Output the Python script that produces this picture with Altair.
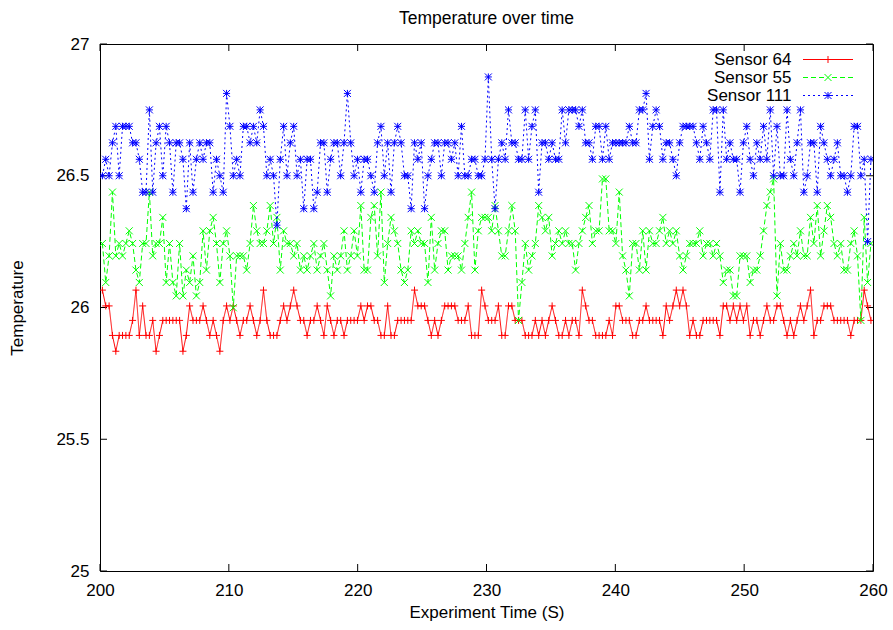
import altair as alt
import pandas as pd

FONT = "Liberation Sans"

sensor_names = ["Sensor 64", "Sensor 55", "Sensor 111"]
sensor_colors = ["#ff0000", "#00ff00", "#0000ff"]
sensor_dashes = [[1, 0], [5, 3], [2, 3]]
# plus, cross and asterisk point symbols
sensor_symbols = [
    "M-1,0L1,0M0,-1L0,1",
    "M-1,-1L1,1M-1,1L1,-1",
    "M-1,0L1,0M0,-1L0,1M-1,-1L1,1M-1,1L1,-1",
]
# key samples: line (solid / dashed / dotted) with the point symbol in the middle
key_symbols = [
    "M-5,0L5,0M-0.7,0L0.7,0M0,-0.7L0,0.7",
    "M-5,0L-4,0M-3.4,0L-2.4,0M-1.8,0L-0.8,0M0.8,0L1.8,0M2.4,0L3.4,0M4,0L5,0"
    "M-0.7,-0.7L0.7,0.7M-0.7,0.7L0.7,-0.7",
    "M-5,0L-4.6,0M-4,0L-3.6,0M-3,0L-2.6,0M-2,0L-1.6,0M-1,0L-0.6,0"
    "M0.6,0L1,0M1.6,0L2,0M2.6,0L3,0M3.6,0L4,0M4.6,0L5,0"
    "M-0.7,0L0.7,0M0,-0.7L0,0.7M-0.7,-0.7L0.7,0.7M-0.7,0.7L0.7,-0.7",
]

# logger clock: first sample time and sampling interval (seconds)
first_sample_s = 200.186
sample_interval_s = 0.2605

sensor_64 = [
    26.066, 26.006, 26.006, 25.894, 25.834, 25.894, 25.894, 25.894, 25.894, 25.951,
    26.066, 25.894, 26.006, 25.894, 25.894, 25.951, 25.834, 25.894, 25.951, 25.951,
    25.951, 25.951, 25.951, 25.951, 25.834, 25.894, 26.006, 25.951, 25.951, 25.951,
    26.006, 25.951, 25.894,
    25.951, 25.894, 25.834, 25.951, 26.006, 25.951, 26.006, 25.951, 25.894, 25.951,
    25.951, 26.006, 25.951, 25.894, 25.951, 26.066, 25.951, 25.894, 25.894, 25.894,
    25.951, 26.006, 25.951, 26.006, 26.066, 26.006, 25.951, 25.951, 25.894, 25.951,
    25.951, 26.006, 25.951,
    25.894, 26.006, 25.951, 25.894, 25.951, 25.951, 25.894, 25.951, 25.951, 25.951,
    25.951, 26.006, 25.951, 26.006, 26.006, 25.951, 25.951, 25.894, 25.894, 26.006,
    25.894, 25.894, 25.951, 25.951, 25.951, 25.951, 25.951, 26.066, 26.006, 26.006,
    26.006, 25.951, 25.894,
    25.951, 25.894, 25.951, 26.006, 26.006, 26.006, 26.006, 25.951, 25.951, 25.951,
    26.006, 25.894, 25.894, 25.894, 26.066, 26.006, 25.951, 25.951, 25.951, 26.006,
    25.894, 25.894, 26.006, 26.006, 25.951, 25.951, 25.951, 25.894, 25.894, 25.894,
    25.951, 25.894,
    25.951, 25.894, 25.951, 26.006, 25.951, 25.894, 25.894, 25.951, 25.894, 25.951,
    25.951, 25.894, 26.066, 26.006, 25.951, 25.951, 25.894, 25.894, 25.894, 25.894,
    25.951, 25.894, 26.006, 26.006, 25.951, 25.951, 25.951, 25.894, 25.894, 25.951,
    25.951, 26.006, 25.951, 25.951,
    25.951, 25.951, 25.894, 26.006, 25.951, 26.006, 26.066, 26.006, 26.066, 26.006,
    25.894, 25.951, 25.894, 25.894, 25.951, 25.951, 25.951, 25.951, 25.951, 25.894,
    26.006, 26.006, 25.951, 26.006, 25.951, 26.006, 25.951, 26.006, 25.894, 25.951,
    25.951, 25.894, 25.951,
    26.006, 25.951, 25.951, 26.006, 26.006, 25.951, 25.894, 25.951, 25.894, 25.951,
    26.006, 25.951, 26.006, 26.066, 25.894, 25.951, 25.951, 26.006, 26.006, 26.006,
    25.951, 25.951, 25.951, 25.951, 25.951, 25.894, 25.951, 25.951, 25.951, 26.066,
    26.006, 25.951,
]

sensor_55 = [
    26.243, 26.095, 26.196, 26.438, 26.196, 26.243, 26.196, 26.243, 26.291, 26.243,
    26.142, 26.095, 26.243, 26.243, 26.438, 26.196, 26.243, 26.243, 26.342, 26.095,
    26.243, 26.095, 26.044, 26.243, 26.044, 26.142, 26.095, 26.196, 26.044, 26.095,
    26.291, 26.142, 26.291,
    26.342, 26.243, 26.095, 26.243, 26.291, 26.196, 25.999, 26.196, 26.196, 26.196,
    26.142, 26.243, 26.387, 26.291, 26.243, 26.243, 26.291, 26.387, 26.243, 26.342,
    26.142, 26.291, 26.243, 26.243, 26.196, 26.243, 26.142, 26.196, 26.142, 26.196,
    26.243, 26.142, 26.196,
    26.243, 26.142, 26.044, 26.196, 26.142, 26.196, 26.291, 26.142, 26.196, 26.291,
    26.196, 26.387, 26.142, 26.142, 26.342, 26.387, 26.196, 26.438, 26.095, 26.243,
    26.342, 26.291, 26.243, 26.142, 26.095, 26.142, 26.291, 26.243, 26.291, 26.243,
    26.243, 26.095, 26.342,
    26.142, 26.243, 26.291, 26.291, 26.142, 26.196, 26.196, 26.196, 26.142, 26.243,
    26.342, 26.438, 26.142, 26.291, 26.342, 26.342, 26.342, 26.291, 26.387, 26.291,
    26.196, 26.196, 26.291, 26.387, 26.291, 25.951, 26.095, 26.243, 26.142, 26.196,
    26.243, 26.387,
    26.342, 26.291, 26.342, 26.196, 26.243, 26.291, 26.243, 26.291, 26.243, 26.243,
    26.142, 26.243, 26.291, 26.342, 26.387, 26.243, 26.291, 26.291, 26.488, 26.488,
    26.291, 26.291, 26.243, 26.438, 26.196, 26.142, 26.044, 26.243, 26.243, 26.142,
    26.291, 26.142,
    26.291, 26.243, 26.243, 26.291, 26.342, 26.243, 26.291, 26.243, 26.291, 26.196,
    26.142, 26.196, 26.243, 26.243, 26.243, 26.291, 26.196, 26.243, 26.243, 26.196,
    26.243, 26.196, 26.095, 26.142, 26.142, 26.044, 26.044, 26.196, 26.196, 26.196,
    26.095, 26.142, 26.142,
    26.196, 26.291, 26.387, 26.438, 26.488, 26.044, 26.243, 26.142, 26.142, 26.196,
    26.243, 26.196, 26.291, 26.196, 26.196, 26.342, 26.243, 26.387, 26.196, 26.291,
    26.387, 26.342, 26.243, 26.196, 26.243, 26.142, 26.142, 26.243, 26.291, 26.196,
    25.951, 26.342, 26.095, 26.243,
]

sensor_111 = [
    26.5, 26.5625, 26.5, 26.625, 26.6875, 26.5, 26.6875, 26.6875, 26.6875, 26.625,
    26.625, 26.5625, 26.4375, 26.4375, 26.75, 26.4375, 26.625, 26.6875, 26.5, 26.6875,
    26.625, 26.4375, 26.625, 26.625, 26.5625, 26.375, 26.625, 26.4375, 26.5625, 26.625,
    26.5625, 26.625, 26.625,
    26.4375, 26.5625, 26.5, 26.4375, 26.8125, 26.6875, 26.5, 26.5625, 26.5, 26.6875,
    26.6875, 26.625, 26.6875, 26.625, 26.75, 26.6875, 26.5, 26.5625, 26.5, 26.3125,
    26.5625, 26.6875, 26.5, 26.625, 26.6875, 26.5, 26.5625, 26.375, 26.5625, 26.5625,
    26.375, 26.4375,
    26.625, 26.625, 26.4375, 26.5625, 26.625, 26.625, 26.5, 26.625, 26.8125, 26.625,
    26.5, 26.5625, 26.4375, 26.5625, 26.5625, 26.5, 26.4375, 26.625, 26.6875, 26.5,
    26.625, 26.4375, 26.625, 26.6875, 26.625, 26.5, 26.5, 26.375, 26.625, 26.5625,
    26.625, 26.375,
    26.5, 26.5625, 26.625, 26.625, 26.5, 26.625, 26.625, 26.5625, 26.625, 26.5,
    26.6875, 26.5, 26.5, 26.5625, 26.5625, 26.5, 26.5, 26.5625, 26.875, 26.5625,
    26.375, 26.5625, 26.625, 26.5625, 26.75, 26.625, 26.625, 26.5625, 26.5625, 26.75,
    26.5625, 26.6875, 26.75, 26.4375,
    26.625, 26.625, 26.5625, 26.625, 26.5625, 26.5625, 26.75, 26.625, 26.75, 26.75,
    26.75, 26.6875, 26.75, 26.625, 26.625, 26.5625, 26.6875, 26.6875, 26.5625, 26.6875,
    26.5625, 26.625, 26.625, 26.625, 26.625, 26.625, 26.6875, 26.625, 26.625, 26.75,
    26.75, 26.8125, 26.5625,
    26.6875, 26.75, 26.6875, 26.5625, 26.625, 26.625, 26.5625, 26.5, 26.625, 26.6875,
    26.6875, 26.6875, 26.6875, 26.625, 26.5625, 26.6875, 26.625, 26.5625, 26.75, 26.75,
    26.4375, 26.75, 26.5625, 26.625, 26.5625, 26.5625, 26.4375, 26.625, 26.6875, 26.5625,
    26.5, 26.625, 26.5625,
    26.6875, 26.5625, 26.75, 26.5, 26.6875, 26.5, 26.5, 26.75, 26.5625, 26.5,
    26.625, 26.75, 26.4375, 26.5, 26.625, 26.625, 26.4375, 26.6875, 26.625, 26.5625,
    26.5, 26.5625, 26.625, 26.5, 26.5, 26.4375, 26.5, 26.6875, 26.6875, 26.5,
    26.5625, 26.25, 26.5625,
]

x_ticks = [200, 210, 220, 230, 240, 250, 260]
y_ticks = [25, 25.5, 26, 26.5, 27]

W, H = 773, 527
TICK_LEN = 7

rows = []
for name, values in zip(sensor_names, [sensor_64, sensor_55, sensor_111]):
    for i, v in enumerate(values):
        rows.append({"time": first_sample_s + i * sample_interval_s,
                     "temp": v, "series": name})
df = pd.DataFrame(rows)

x_scale = alt.Scale(domain=[200, 260], nice=False, zero=False)
y_scale = alt.Scale(domain=[25, 27], nice=False, zero=False)

x_axis = alt.Axis(
    values=x_ticks, format="d", grid=False, domain=False, ticks=False, tickSize=0,
    labelFont=FONT, labelFontSize=17, labelColor="black", labelPadding=11,
    labelFlush=False, labelOverlap=False,
    title="Experiment Time (S)", titleFont=FONT, titleFontSize=17,
    titleFontWeight="normal", titleColor="black", titleY=41, titleBaseline="middle",
)
y_axis = alt.Axis(
    values=y_ticks, format=".1~f", grid=False, domain=False, ticks=False, tickSize=0,
    labelFont=FONT, labelFontSize=17, labelColor="black", labelPadding=11,
    labelFlush=False, labelOverlap=False,
    title="Temperature", titleFont=FONT, titleFontSize=17, titleFontWeight="normal",
    titleColor="black", titleX=-83, titleY=H / 2, titleAngle=270,
    titleBaseline="middle", titleAlign="center",
)

x_enc = alt.X("time:Q", scale=x_scale, axis=x_axis)
y_enc = alt.Y("temp:Q", scale=y_scale, axis=y_axis)

base = alt.Chart(df)
layers = []
for name, col, dash, sym in zip(sensor_names, sensor_colors, sensor_dashes, sensor_symbols):
    sub = base.transform_filter(alt.datum.series == name)
    line = sub.mark_line(strokeWidth=1, clip=True, color=col, strokeDash=dash).encode(
        x=x_enc, y=y_enc)
    pts = sub.mark_point(filled=False, strokeWidth=1, opacity=1, size=49, clip=True,
                         color=col, shape=sym).encode(x=x_enc, y=y_enc)
    layers += [line, pts]

# key in the top-right corner: right-aligned labels left of each sample
key_legend = alt.Legend(
    title=None, orient="none", legendX=719.5, legendY=7, padding=0,
    symbolSize=100, symbolStrokeWidth=1, symbolFillColor="transparent",
    labelFont=FONT, labelFontSize=17, labelColor="black", labelAlign="right",
    labelOffset={"expr": "-45"}, labelLimit=0, rowPadding=0,
)
key = base.transform_filter("false").mark_point(filled=False, strokeWidth=1, opacity=1).encode(
    color=alt.Color("series:N", scale=alt.Scale(domain=sensor_names, range=sensor_colors),
                    legend=key_legend),
    shape=alt.Shape("series:N", scale=alt.Scale(domain=sensor_names, range=key_symbols),
                    legend=key_legend),
)

# inward tick marks on all four sides of the frame
xt = alt.Chart(pd.DataFrame({"time": x_ticks}))
yt = alt.Chart(pd.DataFrame({"temp": y_ticks}))
tick_style = dict(color="black", strokeWidth=1)
ticks = [
    xt.mark_rule(**tick_style).encode(x=alt.X("time:Q", scale=x_scale, axis=x_axis),
                                      y=alt.value(H), y2=alt.value(H - TICK_LEN)),
    xt.mark_rule(**tick_style).encode(x=alt.X("time:Q", scale=x_scale, axis=x_axis),
                                      y=alt.value(0), y2=alt.value(TICK_LEN)),
    yt.mark_rule(**tick_style).encode(y=alt.Y("temp:Q", scale=y_scale, axis=y_axis),
                                      x=alt.value(0), x2=alt.value(TICK_LEN)),
    yt.mark_rule(**tick_style).encode(y=alt.Y("temp:Q", scale=y_scale, axis=y_axis),
                                      x=alt.value(W), x2=alt.value(W - TICK_LEN)),
]

chart = alt.layer(*ticks, *layers, key).properties(
    width=W, height=H,
    autosize=alt.AutoSizeParams(type="none"),
    padding={"left": 100, "top": 44, "right": 20, "bottom": 59},
    background="white",
    title=alt.TitleParams("Temperature over time", font=FONT, fontSize=17.5,
                          fontWeight="normal", color="black", anchor="middle", offset=8),
).configure_view(stroke="black", strokeWidth=1)

chart.save("out.html", embed_options={"renderer": "svg", "actions": False})
